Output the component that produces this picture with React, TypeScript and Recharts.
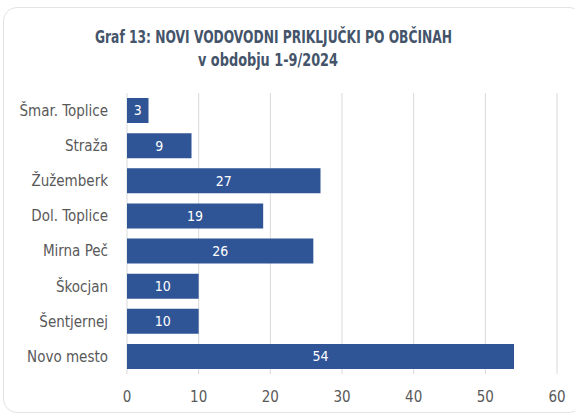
import React from 'react';
import { BarChart, Bar, XAxis, YAxis, CartesianGrid, LabelList } from 'recharts';

const categories = ['Šmar. Toplice', 'Straža', 'Žužemberk', 'Dol. Toplice', 'Mirna Peč', 'Škocjan', 'Šentjernej', 'Novo mesto'];
const values = [3, 9, 27, 19, 26, 10, 10, 54];
const xTicks = [0, 10, 20, 30, 40, 50, 60];
const titleLine1 = 'Graf 13: NOVI VODOVODNI PRIKLJUČKI PO OBČINAH';
const titleLine2 = 'v obdobju 1-9/2024';

const data = categories.map((name, i) => ({ name, value: values[i] }));

const FONT = "'Liberation Sans Narrow', 'DejaVu Sans Condensed', 'Roboto', sans-serif";

export default function App() {
  return (
    <div style={{ position: 'fixed', left: 0, top: 0, width: 575, height: 416, background: '#fff', overflow: 'hidden' }}>
      <div
        style={{
          position: 'absolute',
          left: 3,
          top: 7,
          width: 580,
          height: 406,
          border: '1px solid #e3e3e3',
          borderRadius: 14,
          boxSizing: 'border-box',
        }}
      />
      <svg width={575} height={80} style={{ position: 'absolute', left: 0, top: 0 }}>
        <text x={273.5} y={43} textAnchor="middle" fill="#44546A" fontFamily={FONT} fontSize={18} fontWeight={600}
          textLength={357} lengthAdjust="spacingAndGlyphs">{titleLine1}</text>
        <text x={268} y={66} textAnchor="middle" fill="#44546A" fontFamily={FONT} fontSize={18} fontWeight={600}
          textLength={140} lengthAdjust="spacingAndGlyphs">{titleLine2}</text>
      </svg>
      <div style={{ position: 'absolute', left: 0, top: 0 }}>
        <BarChart
          width={575}
          height={416}
          data={data}
          layout="vertical"
          margin={{ top: 93, right: 18, bottom: 12, left: 0 }}
          barSize={25}
        >
          <CartesianGrid horizontal={false} vertical={true} stroke="#D9D9D9" />
          <XAxis
            type="number"
            domain={[0, 60]}
            ticks={xTicks}
            axisLine={false}
            tickLine={false}
            tickSize={0}
            tickMargin={17}
            height={30}
            tick={{ fill: '#595959', fontSize: 15, fontFamily: FONT }}
          />
          <YAxis
            type="category"
            dataKey="name"
            width={127}
            axisLine={false}
            tickLine={false}
            tickSize={0}
            tickMargin={19}
            tick={{ fill: '#595959', fontSize: 15, fontFamily: FONT }}
          />
          <Bar dataKey="value" fill="#2F5597" isAnimationActive={false}>
            <LabelList dataKey="value" position="center" fill="#ffffff" fontSize={14} fontFamily={FONT} />
          </Bar>
        </BarChart>
      </div>
    </div>
  );
}
